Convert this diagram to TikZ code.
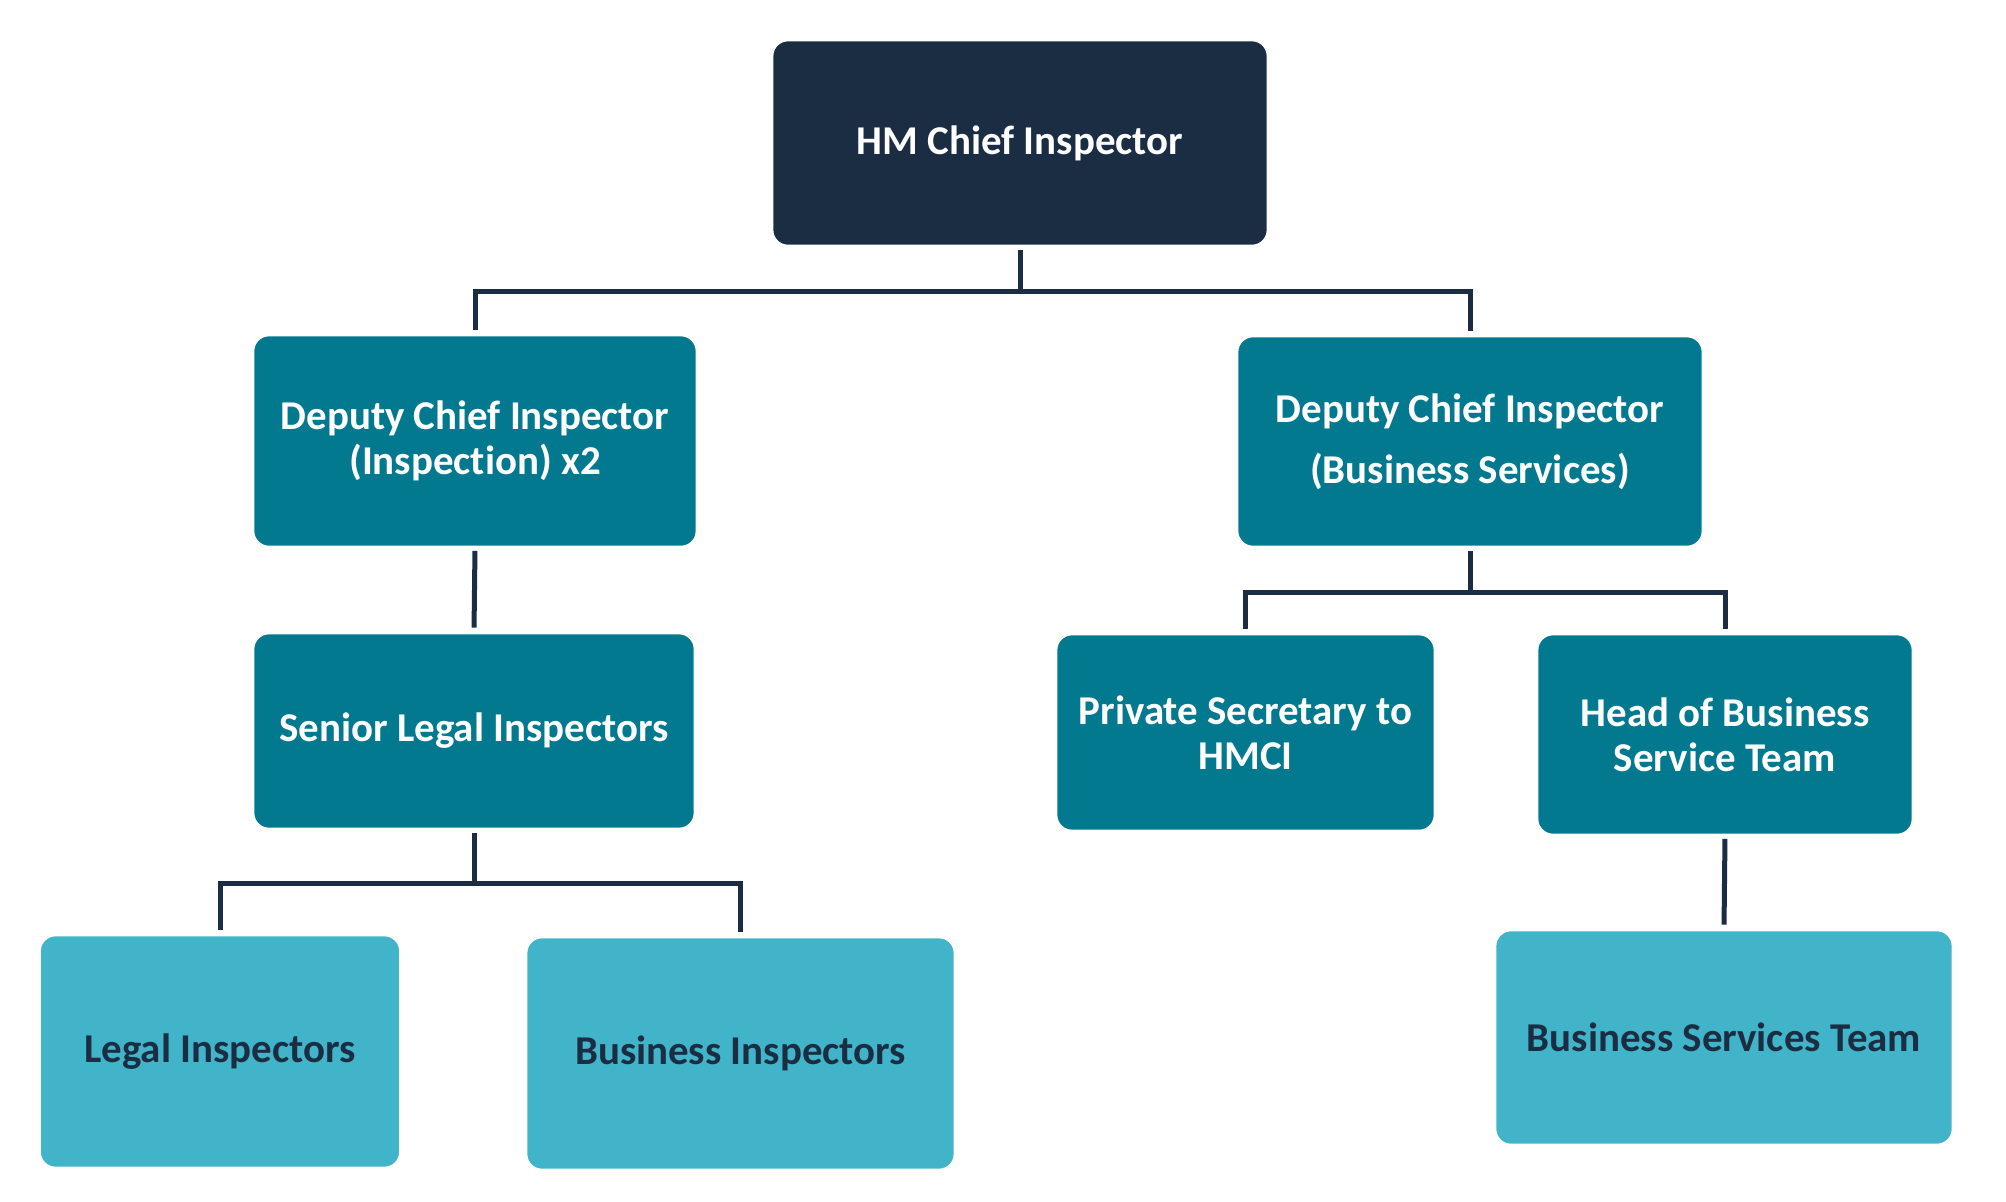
\documentclass[tikz,border=0pt]{standalone}
\usepackage{fontspec}
\setmainfont{Carlito}[RawFeature=-liga]

\definecolor{navy}{HTML}{1A2D42}
\definecolor{teal}{HTML}{03798F}
\definecolor{lightteal}{HTML}{42B4C9}

\begin{document}
\begin{tikzpicture}[
            % one unit = one pixel of the 2006x1201 page, y running down
            x={(0.02cm,0cm)}, y={(0cm,-0.02cm)},
            % Box styles and connector
            chief_box/.style={rectangle, rounded corners=0.32cm, fill=navy, draw=white, line width=1.5pt,
                inner sep=0pt, align=center, text=white,
                font=\fontsize{23.3}{25.6}\selectfont\bfseries},
            deputy_box/.style={chief_box, fill=teal},
            team_box/.style={chief_box, fill=lightteal, text=navy},
            link/.style={draw=navy, line width=0.1cm, line join=miter,
                shorten <=0.05cm, shorten >=0.08cm}
        ]

        \useasboundingbox (0,0) rectangle (2006,1201);

        % ==============================
        % 1. TOP LEVEL
        % ==============================
        \node[chief_box, minimum width=9.92cm, minimum height=4.12cm] (hmci) at (1020,143) {HM Chief Inspector};

        % ==============================
        % 2. DEPUTIES
        % ==============================
        \node[deputy_box, minimum width=8.88cm, minimum height=4.24cm] (dci_insp) at (475,441)
            {Deputy Chief Inspector\\(Inspection) x2};
        \node[deputy_box, minimum width=9.32cm, minimum height=4.22cm,
              font=\fontsize{23.3}{35}\selectfont\bfseries] (dci_bus) at (1470,441.5)
            {Deputy Chief Inspector\\(Business Services)};

        % ==============================
        % 3. THIRD LEVEL
        % ==============================
        \node[deputy_box, minimum width=8.84cm, minimum height=3.92cm] (senior_legal) at (474,731) {Senior Legal Inspectors};
        \node[deputy_box, minimum width=7.58cm, minimum height=3.94cm] (priv_sec) at (1245.5,732.5)
            {Private Secretary to\\HMCI};
        \node[deputy_box, minimum width=7.52cm, minimum height=4.02cm] (head_bus) at (1725,734.5)
            {Head of Business\\Service Team};

        % ==============================
        % 4. TEAMS
        % ==============================
        \node[team_box, minimum width=7.22cm, minimum height=4.66cm] (legal_insp) at (220,1051.5) {Legal Inspectors};
        \node[team_box, minimum width=8.58cm, minimum height=4.66cm] (bus_insp) at (740.5,1053.5) {Business Inspectors};
        \node[team_box, minimum width=9.16cm, minimum height=4.30cm] (bus_team) at (1724,1037.5) {Business Services Team};

        % Connectors
        \draw[link] (hmci.south) -- ++(0,44) -| (dci_insp.north);
        \draw[link] (hmci.south) -- ++(0,44) -| (dci_bus.north);
        \draw[link] (dci_insp.south) -- (senior_legal.north);
        \draw[link] (senior_legal.south) -- ++(0,53) -| (legal_insp.north);
        \draw[link] (senior_legal.south) -- ++(0,53) -| (bus_insp.north);
        \draw[link] (dci_bus.south) -- ++(0,44) -| (priv_sec.north);
        \draw[link] (dci_bus.south) -- ++(0,44) -| (head_bus.north);
        \draw[link] (head_bus.south) -- (bus_team.north);

        \end{tikzpicture}
\end{document}
